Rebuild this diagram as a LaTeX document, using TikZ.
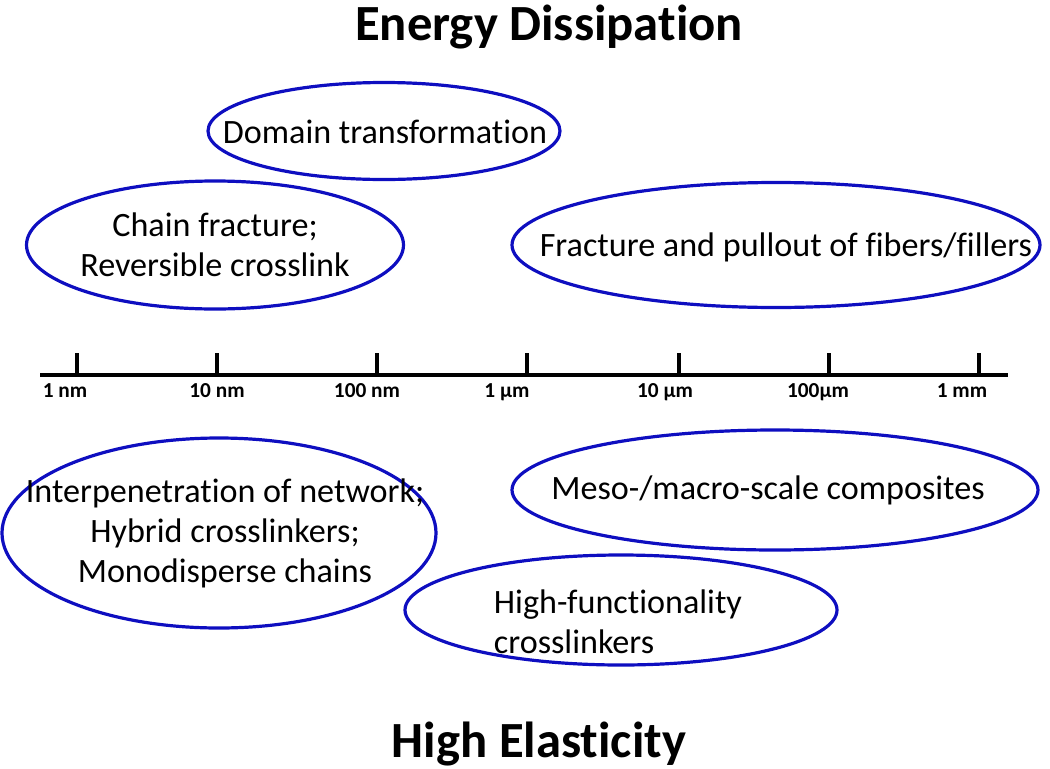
\documentclass[tikz,border=0pt]{standalone}
\usepackage{fontspec}
\setmainfont{Carlito}[Ligatures={NoCommon}]
\usepackage{xcolor}
\usepackage{tikz}
\usetikzlibrary{shapes.geometric,positioning}
\definecolor{ringblue}{RGB}{14,14,192}
\tikzset{
  mech/.style 2 args={draw=ringblue, line width=2.4pt, ellipse, inner sep=0pt,
    minimum width=#1*0.75pt, minimum height=#2*0.75pt},
  mechtext/.style={align=center, inner sep=0pt, font=\fontsize{25.6}{30}\selectfont},
  scalelbl/.style={font=\bfseries\fontsize{16}{18}\selectfont, anchor=base},
  headline/.style={font=\bfseries\fontsize{38}{44}\selectfont, anchor=base}
}

\begin{document}
\begin{tikzpicture}[x=0.75pt, y=-0.75pt]
  \useasboundingbox (0,0) rectangle (1050,768);

  % 1. Tieu de tren va duoi
  \node[headline] (energy) at (549,40) {Energy Dissipation};
  \node[headline] (elastic) at (539,757) {High Elasticity};

  % 2. Truc thang do
  \coordinate (axisL) at (40,375);
  \coordinate (axisR) at (1008,375);
  \draw[line width=3pt] (axisL) -- (axisR);

  % 3. Vach chia va nhan
  \foreach \x/\lx/\l/\n in {77/65/1 nm/a, 217/217/10 nm/b, 377/367/100 nm/c, 527/507/1 µm/d,
      679/665/10 µm/e, 829/818/100µm/f, 979/962/1 mm/g} {
    \draw[line width=3pt] (\x,376) -- (\x,353);
    \node[scalelbl] (tick\n) at (\lx,397) {\l};
  }

  % 4. Co che tieu tan nang luong (phia tren)
  \node[mech={352}{97}] (domain) at (384,131) {};
  \node[mechtext] (domaintxt) at (385,132) {Domain transformation};
  \node[mech={377}{128}] (chain) at (215,245) {};
  \node[mechtext] (chaintxt) at (chain) {Chain fracture;\\Reversible crosslink};
  \node[mech={528}{125}] (fibers) at (776,245) {};
  \node[mechtext] (fiberstxt) at (786,247) {Fracture and pullout of fibers/fillers};

  % 5. Co che dan hoi cao (phia duoi)
  \node[mech={434}{190}] (interpen) at (219,533) {};
  \node[mechtext] (interpentxt) at (225,533) {Interpenetration of network;\\Hybrid crosslinkers;\\Monodisperse chains};
  \node[mech={526}{120}] (composite) at (775,490) {};
  \node[mechtext] (compositetxt) at (768,490) {Meso-/macro-scale composites};
  \node[mech={432}{110}] (highfunc) at (621,610) {};
  \node[mechtext, align=left] (highfunctxt) at (618,622) {High-functionality\\crosslinkers};
\end{tikzpicture}
\end{document}
